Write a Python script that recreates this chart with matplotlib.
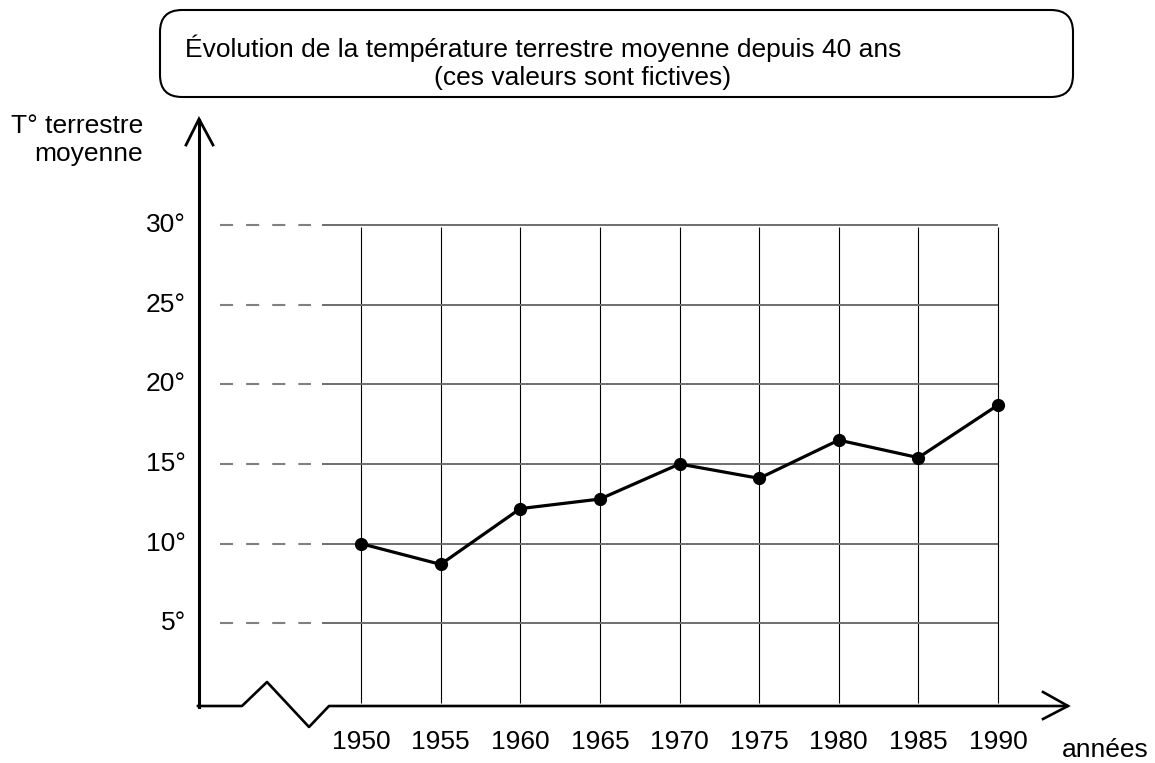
import numpy as np
import matplotlib
matplotlib.use("Agg")
import matplotlib.pyplot as plt
import matplotlib.transforms as mtransforms
from matplotlib.lines import Line2D
from matplotlib.patches import FancyBboxPatch

# data
years = [1950, 1955, 1960, 1965, 1970, 1975, 1980, 1985, 1990]
temps = [10.0, 8.7, 12.2, 12.8, 15.0, 14.1, 16.5, 15.4, 18.7]
temp_ticks = [5, 10, 15, 20, 25, 30]
temp_labels = ["5°", "10°", "15°", "20°", "25°", "30°"]
title1 = "Évolution de la température terrestre moyenne depuis 40 ans"
title2 = "(ces valeurs sont fictives)"

plt.rcParams['font.family'] = ['Liberation Sans', 'DejaVu Sans']
plt.rcParams['lines.scale_dashes'] = False
fs = 19

W, H = 1155, 763
fig = plt.figure(figsize=(W / 100, H / 100), dpi=100)
# pixel transform, origin at top left
pix = mtransforms.Affine2D().scale(1, -1).translate(0, H)

# plot area: 1950 at x=361, 1990 at x=998, 0 deg at y=703, 30 deg at y=225
x0, x1, y0, y1 = 361, 998, 703, 225
ax = fig.add_axes([x0 / W, (H - y0) / H, (x1 - x0) / W, (y0 - y1) / H])
ax.set_xlim(1950, 1990)
ax.set_ylim(0, 30)
ax.axis('off')

px_per_year = (x1 - x0) / 40.0
def yr(px):
    return 1950 + (px - x0) / px_per_year

# grid
ax.vlines(years, 0, 29.9, color='black', lw=0.8, clip_on=False)
ax.hlines(temp_ticks, yr(322), 1990, color='#6e6e6e', lw=1.4, clip_on=False)
ax.hlines(temp_ticks, yr(220), yr(311), color='#808080', lw=1.5,
          linestyles=[(0, (9.4, 9.4))], clip_on=False)

# data
ax.plot(years, temps, '-o', color='black', lw=2.3, ms=8.5, clip_on=False, zorder=5)

# tick labels
ylab_tr = mtransforms.blended_transform_factory(pix, ax.transData)
for t, lab in zip(temp_ticks, temp_labels):
    ax.text(186, t, lab, transform=ylab_tr, ha='right', va='center', fontsize=fs)
xlab_tr = mtransforms.blended_transform_factory(ax.transData, pix)
for y in years:
    ax.text(y, 742, str(y), transform=xlab_tr, ha='center', va='center', fontsize=fs)

# axes with arrows and break
fig.add_artist(Line2D([199, 199], [707, 120], color='black', lw=2.2, transform=pix))
fig.add_artist(Line2D([186, 199, 213], [145, 119, 145], color='black', lw=2.0,
                      transform=pix, solid_joinstyle='miter'))
fig.add_artist(Line2D([198, 242, 267, 309, 329, 1067], [706, 706, 682, 727, 706, 706],
                      color='black', lw=1.9, transform=pix))
fig.add_artist(Line2D([1043, 1068, 1043], [692, 706, 719], color='black', lw=1.9,
                      transform=pix, solid_joinstyle='miter'))

# axis names
fig.text(143, 140, "T° terrestre\nmoyenne", transform=pix, ha='right', va='center',
         multialignment='right', fontsize=fs, linespacing=1.25)
fig.text(1105, 750, "années", transform=pix, ha='center', va='center', fontsize=fs)

# title box
box = FancyBboxPatch((160, 10), 913, 87, boxstyle="round,pad=0,rounding_size=22",
                     transform=pix, fc='white', ec='black', lw=1.5)
fig.add_artist(box)
fig.text(185, 48, title1, transform=pix, ha='left', va='center', fontsize=fs)
fig.text(583, 78, title2, transform=pix, ha='center', va='center', fontsize=fs)

fig.savefig('out.png', dpi=100)
